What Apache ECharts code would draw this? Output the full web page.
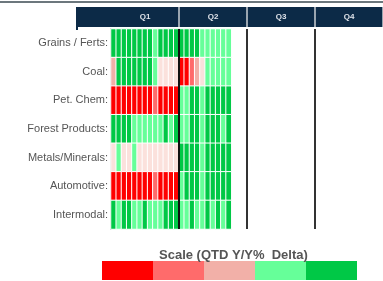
<!DOCTYPE html>
<html>
<head>
<meta charset="utf-8">
<script src="https://cdn.jsdelivr.net/npm/echarts@6/dist/echarts.min.js"></script>
<style>
  html, body { margin: 0; padding: 0; background: #fff; }
  #main { width: 383px; height: 281px; }
</style>
</head>
<body>
<div id="main"></div>
<script>
// categories
var quarters = ['Q1', 'Q2', 'Q3', 'Q4'];
var rows = ['Grains / Ferts:', 'Coal:', 'Pet. Chem:', 'Forest Products:', 'Metals/Minerals:', 'Automotive:', 'Intermodal:'];
var weeks = [];
for (var w = 1; w <= 52; w++) weeks.push('W' + w);

// weekly scale class: 1 red .. 5 green, 0 = flat
var grains     = [5, 5, 5, 5, 5, 5, 5, 5, 4, 5, 5, 5, 5,  5, 5, 5, 5, 4, 4, 4, 4, 4, 4];
var coal       = [3, 5, 5, 5, 5, 5, 5, 5, 4, 0, 0, 0, 0,  1, 1, 2, 3, 0, 4, 4, 4, 4, 4];
var petChem    = [1, 1, 1, 1, 1, 1, 1, 1, 2, 1, 1, 1, 1,  4, 4, 5, 5, 4, 5, 5, 5, 5, 5];
var forest     = [5, 5, 5, 5, 4, 4, 4, 4, 4, 4, 5, 4, 5,  4, 4, 5, 5, 4, 5, 5, 5, 4, 5];
var metals     = [0, 4, 0, 0, 4, 0, 0, 0, 0, 0, 0, 0, 0,  5, 5, 5, 5, 4, 5, 5, 5, 5, 5];
var automotive = [1, 1, 1, 1, 1, 1, 1, 1, 2, 1, 1, 1, 1,  4, 5, 5, 5, 4, 5, 5, 5, 5, 5];
var intermodal = [5, 4, 5, 5, 4, 4, 5, 4, 4, 4, 5, 5, 5,  4, 4, 5, 4, 4, 5, 4, 5, 4, 5];

// legend scale
var scaleColors = ['#ff0000', '#ff6b6b', '#f2b0a8', '#66ff99', '#00c846'];
var flatColor = '#fbe1dc';

var rowData = [grains, coal, petChem, forest, metals, automotive, intermodal];
var data = [];
rowData.forEach(function (vals, r) {
    vals.forEach(function (v, i) {
        data.push([i, r, v]);
    });
});

var myChart = echarts.init(document.getElementById('main'));
myChart.setOption({
    animation: false,
    title: {
        text: 'Scale (QTD Y/Y%  Delta)',
        left: 154,
        top: 244,
        textStyle: { fontFamily: 'Liberation Sans', fontSize: 13, fontWeight: 'bold', color: '#555' }
    },
    grid: { left: 111, top: 29, width: 276, height: 200 },
    graphic: [
        { type: 'line', shape: { x1: 0, y1: 2, x2: 383, y2: 2 }, style: { stroke: '#3b4a52', lineWidth: 1.5 } },
        { type: 'rect', shape: { x: 76, y: 7, width: 307, height: 20 }, style: { fill: '#0c2a47' } },
        { type: 'rect', shape: { x: 76, y: 7, width: 2, height: 23 }, style: { fill: '#0c2a47' } }
    ],
    xAxis: [
        {
            type: 'category',
            data: weeks,
            show: false
        },
        {
            type: 'category',
            data: quarters,
            position: 'top',
            offset: 2,
            z: 10,
            axisLine: { show: false },
            axisTick: {
                show: true,
                length: 20,
                interval: function (idx) { return idx > 0; },
                lineStyle: { color: '#c9ced4', width: 1.5 }
            },
            axisLabel: { color: '#dfe3ea', fontSize: 8, fontWeight: 'bold', margin: 6, fontFamily: 'Liberation Sans' },
            splitLine: {
                show: true,
                lineStyle: { color: ['rgba(0,0,0,0)', '#111', '#333', '#333'], width: 2 }
            }
        }
    ],
    yAxis: {
        type: 'category',
        data: rows,
        inverse: true,
        axisLine: { show: true, lineStyle: { color: '#c4c4c4', width: 2 } },
        axisTick: { show: false },
        axisLabel: { fontFamily: 'Liberation Sans', fontSize: 11, color: '#555', margin: 3 }
    },
    visualMap: {
        type: 'piecewise',
        seriesIndex: 0,
        dimension: 2,
        orient: 'horizontal',
        left: 102,
        top: 261,
        padding: 0,
        itemWidth: 51,
        itemHeight: 19,
        itemGap: 0,
        itemSymbol: 'rect',
        showLabel: false,
        hoverLink: false,
        selectedMode: false,
        pieces: scaleColors.map(function (c, i) { return { value: i + 1, color: c }; }),
        outOfRange: { color: flatColor }
    },
    series: [
        {
            type: 'heatmap',
            data: data,
            itemStyle: { borderColor: '#fff', borderWidth: 1 },
            emphasis: { disabled: true }
        }
    ]
});
</script>
</body>
</html>
